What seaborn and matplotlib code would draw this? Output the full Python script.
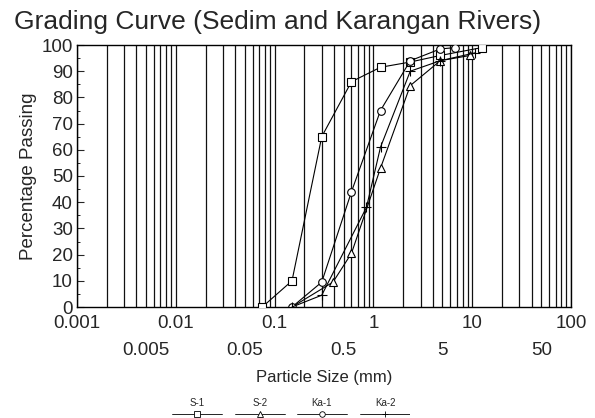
import numpy as np
import pandas as pd
import matplotlib
matplotlib.use("Agg")
import matplotlib.pyplot as plt
from matplotlib.ticker import LogLocator, FuncFormatter, FixedLocator
from matplotlib.lines import Line2D
import seaborn as sns

# ---- data ----
s1_size = [0.075, 0.15, 0.3, 0.6, 1.18, 2.36, 4.75, 12.5]
s1_pass = [0, 10, 65, 86, 91.5, 93.5, 96, 99]

s2_size = [0.15, 0.39, 0.6, 1.18, 2.36, 4.75, 9.5]
s2_pass = [0, 9.5, 20.5, 53, 84.5, 94, 96]

ka1_size = [0.15, 0.3, 0.6, 1.18, 2.36, 4.75, 6.7]
ka1_pass = [0, 9.5, 44, 75, 94, 98.5, 99]

ka2_size = [0.15, 0.3, 0.85, 1.18, 2.36, 4.75, 10.7]
ka2_pass = [0, 4.5, 38, 61, 90, 94, 97]

series_names = ["S-1", "S-2", "Ka-1", "Ka-2"]
major_ticks = [0.001, 0.01, 0.1, 1, 10, 100]
major_labels = ["0.001", "0.01", "0.1", "1", "10", "100"]
second_row = [0.005, 0.05, 0.5, 5, 50]
second_labels = ["0.005", "0.05", "0.5", "5", "50"]
y_ticks = list(range(0, 101, 10))

frames = {
    "S-1": pd.DataFrame({"size": s1_size, "pass": s1_pass}),
    "S-2": pd.DataFrame({"size": s2_size, "pass": s2_pass}),
    "Ka-1": pd.DataFrame({"size": ka1_size, "pass": ka1_pass}),
    "Ka-2": pd.DataFrame({"size": ka2_size, "pass": ka2_pass}),
}

sns.set_style("white")
plt.rcParams['font.family'] = ['Liberation Sans', 'DejaVu Sans']

fig = plt.figure(figsize=(5.95, 4.18), dpi=100)
ax = fig.add_axes([77/595, 1-307/418, (571-77)/595, (307-45)/418])

markers = {"S-1": "s", "S-2": "^", "Ka-1": "o", "Ka-2": "+"}
for name in series_names:
    sns.lineplot(data=frames[name], x="size", y="pass", color="black",
                 marker=markers[name], markersize=5.5 if name != "Ka-2" else 6.5,
                 markerfacecolor="white", markeredgecolor="black",
                 markeredgewidth=0.8, linewidth=0.8, legend=False, ax=ax,
                 estimator=None, sort=True, zorder=5)

ax.set_xscale("log")
ax.set_xlim(0.001, 100)
ax.set_ylim(0, 100)

ax.xaxis.set_major_locator(FixedLocator(major_ticks))
ax.set_xticklabels(major_labels)
ax.xaxis.set_minor_locator(LogLocator(base=10, subs=np.arange(2, 10), numticks=50))

def minor_fmt(v, pos):
    for val, lab in zip(second_row, second_labels):
        if abs(v - val) / val < 1e-6:
            return lab
    return ""
ax.xaxis.set_minor_formatter(FuncFormatter(minor_fmt))

ax.grid(True, which="both", axis="x", color="#111111", linewidth=0.9)
ax.set_axisbelow(True)

ax.set_yticks(y_ticks)
ax.set_yticks(range(5, 100, 10), minor=True)
ax.tick_params(axis="y", which="major", direction="in", length=5, width=0.8,
               labelsize=13.5, pad=3, left=True)
ax.tick_params(axis="y", which="minor", direction="in", length=2.5, width=0.7, left=True)
ax.tick_params(axis="x", which="major", length=0, labelsize=13.5, pad=6)
ax.tick_params(axis="x", which="minor", length=0, labelsize=13.5, pad=25)

for sp in ax.spines.values():
    sp.set_color("black")
    sp.set_linewidth(1.0)

ax.set_xlabel("Particle Size (mm)", fontsize=12, labelpad=8)
ax.set_ylabel("Percentage Passing", fontsize=13.5, labelpad=3)
fig.text(278/595, 1 - 22/418, "Grading Curve (Sedim and Karangan Rivers)",
         ha="center", va="center", fontsize=19)

# ---- legend: label above a short line with marker ----
lax = fig.add_axes([150/595, 0, 260/595, 26/418])
lax.set_xlim(0, 260)
lax.set_ylim(0, 26)
lax.axis("off")
centers = [47, 110, 172, 235]
for name, cx in zip(series_names, centers):
    lax.add_line(Line2D([cx - 25, cx + 25], [4.5, 4.5], color="black", lw=0.6))
    lax.add_line(Line2D([cx], [4.5], marker=markers[name], color="black",
                        markerfacecolor="white", markersize=4, markeredgewidth=0.6))
    lax.text(cx, 10, name, ha="center", va="bottom", fontsize=7)

fig.savefig("out.png", dpi=100)
